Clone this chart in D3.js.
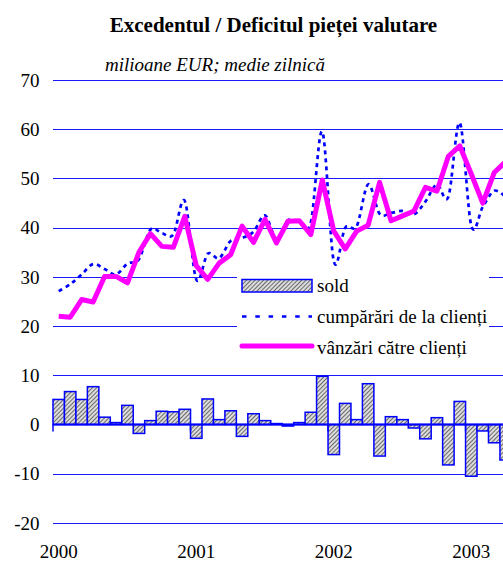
<!DOCTYPE html>
<html><head><meta charset="utf-8">
<script src="https://cdn.jsdelivr.net/npm/d3@7"></script>
<style>
html,body{margin:0;padding:0;background:#fff;overflow:hidden}
text{font-family:"Times New Roman","Liberation Serif",serif;fill:#000}
</style></head><body>
<svg id="chart" width="503" height="561"></svg>
<script>
const months = ["2000-01","2000-02","2000-03","2000-04","2000-05","2000-06","2000-07","2000-08","2000-09","2000-10","2000-11","2000-12",
"2001-01","2001-02","2001-03","2001-04","2001-05","2001-06","2001-07","2001-08","2001-09","2001-10","2001-11","2001-12",
"2002-01","2002-02","2002-03","2002-04","2002-05","2002-06","2002-07","2002-08","2002-09","2002-10","2002-11","2002-12",
"2003-01","2003-02","2003-03","2003-04"];
const sold = [5.1,6.7,5.1,7.7,1.5,0.4,3.9,-1.8,0.8,2.7,2.6,3.1,
-2.8,5.2,1.0,2.8,-2.4,2.2,0.8,0.2,-0.3,0.4,2.5,9.8,
-6.1,4.3,1.0,8.3,-6.4,1.6,1.0,-0.7,-2.9,1.4,-8.2,4.7,
-10.5,-1.3,-3.7,-7.2];
const cumparari = [27.1,28.5,30.5,32.6,31.6,30.5,32.7,33.6,39.6,38.9,38.6,45.4,
29.5,34.7,33.8,37.3,37.9,39.2,42.5,37.7,41.5,41.1,41.1,59.5,
33.2,40.0,40.3,48.8,42.8,43.0,43.4,42.7,45.3,48.8,46.3,61.3,
40.4,44.2,47.5,46.2];
const vanzari = [22.0,21.8,25.4,24.9,30.1,30.1,28.8,35.0,38.8,36.2,36.0,42.3,
32.3,29.5,32.8,34.5,40.3,37.0,41.7,36.9,41.3,41.4,38.6,49.7,
39.3,35.7,39.3,40.5,49.2,41.4,42.4,43.4,48.2,47.4,54.5,56.6,
50.9,45.0,51.2,53.4];
const yTicks = [-20,-10,0,10,20,30,40,50,60,70];
const xTickLabels = ["2000","2001","2002","2003"];
const xTickMonths = ["2000-01","2001-01","2002-01","2003-01"];
const seriesNames = ["sold","cumpărări de la clienți","vânzări către clienți"];
const title = "Excedentul / Deficitul pieței valutare";
const subtitle = "milioane EUR; medie zilnică";

const svg = d3.select("#chart");
const left = 53, monthW = 11.46;
const x = d3.scaleBand().domain(months).range([left, left + monthW*months.length]).padding(0);
const y = d3.scaleLinear().domain([-20,70]).range([523,80]);
const cx = m => x(m) + x.bandwidth()/2;

// pattern
const defs = svg.append("defs");
const pat = defs.append("pattern").attr("id","hatch").attr("patternUnits","userSpaceOnUse")
  .attr("width",3).attr("height",3).attr("patternTransform","rotate(45)");
pat.append("rect").attr("width",3).attr("height",3).attr("fill","#dcdcdc");
pat.append("line").attr("x1",0).attr("y1",0).attr("x2",0).attr("y2",3).attr("stroke","#444").attr("stroke-width",1.5);

// title
svg.append("text").attr("x",273.5).attr("y",32).attr("text-anchor","middle")
  .style("font-size","21px").style("font-weight","bold").text(title);
svg.append("text").attr("x",105).attr("y",71).style("font-size","19px").style("font-style","italic").text(subtitle);

// gridlines
const gW = 520;
svg.append("g").selectAll("line").data(yTicks.filter(d=>d!==0)).join("line")
  .attr("x1",left).attr("x2",gW)
  .attr("y1",d=>Math.round(y(d))+0.5).attr("y2",d=>Math.round(y(d))+0.5)
  .attr("stroke","#1a1aff").attr("stroke-width",1.2);

// y labels
svg.append("g").selectAll("text").data(yTicks).join("text")
  .attr("x",39.5).attr("y",d=>y(d)).attr("dy","0.35em").attr("text-anchor","end")
  .style("font-size","19px").text(d=>d);

// bars
svg.append("g").selectAll("rect").data(months).join("rect")
  .attr("x",d=>x(d)).attr("width",x.bandwidth())
  .attr("y",(d,i)=>y(Math.max(0,sold[i]))).attr("height",(d,i)=>Math.abs(y(sold[i])-y(0)))
  .attr("fill","url(#hatch)").attr("stroke","#0000ff").attr("stroke-width",1.5);

// zero axis
const y0 = y(0);
svg.append("line").attr("x1",left).attr("x2",gW).attr("y1",y0).attr("y2",y0)
  .attr("stroke","#0000ff").attr("stroke-width",2);
svg.append("g").selectAll("line").data(xTickMonths).join("line")
  .attr("x1",d=>x(d)).attr("x2",d=>x(d)).attr("y1",y0).attr("y2",y0+7)
  .attr("stroke","#0000ff").attr("stroke-width",1.5);

// x labels
svg.append("g").selectAll("text").data(xTickMonths).join("text")
  .attr("x",d=>cx(d)).attr("y",558).attr("text-anchor","middle")
  .style("font-size","19px").text((d,i)=>xTickLabels[i]);

// lines
const lineBuy = d3.line().x((d,i)=>cx(months[i])).y(d=>y(d)).curve(d3.curveCatmullRom.alpha(0));
const lineSell = d3.line().x((d,i)=>cx(months[i])).y(d=>y(d));
svg.append("path").datum(cumparari).attr("d",lineBuy).attr("fill","none")
  .attr("stroke","#0000ff").attr("stroke-width",2.7).attr("stroke-dasharray","4,4");
svg.append("path").datum(vanzari).attr("d",lineSell).attr("fill","none")
  .attr("stroke","#ff00ff").attr("stroke-width",5).attr("stroke-linejoin","round");

// legend
const lg = svg.append("g");
lg.append("rect").attr("x",237).attr("y",269).attr("width",252).attr("height",92).attr("fill","#fff");
lg.append("rect").attr("x",242).attr("y",279.5).attr("width",70).attr("height",12.5)
  .attr("fill","url(#hatch)").attr("stroke","#0000ff").attr("stroke-width",1.5);
lg.append("line").attr("x1",242).attr("x2",312).attr("y1",316.5).attr("y2",316.5)
  .attr("stroke","#0000ff").attr("stroke-width",2.7).attr("stroke-dasharray","4.5,8.8");
lg.append("line").attr("x1",242).attr("x2",312).attr("y1",346).attr("y2",346)
  .attr("stroke","#ff00ff").attr("stroke-width",5).attr("stroke-linecap","round");
lg.selectAll("text").data(seriesNames).join("text")
  .attr("x",317).attr("y",(d,i)=>[292,323,353.5][i]).style("font-size","19px").text(d=>d);
</script>
</body></html>
